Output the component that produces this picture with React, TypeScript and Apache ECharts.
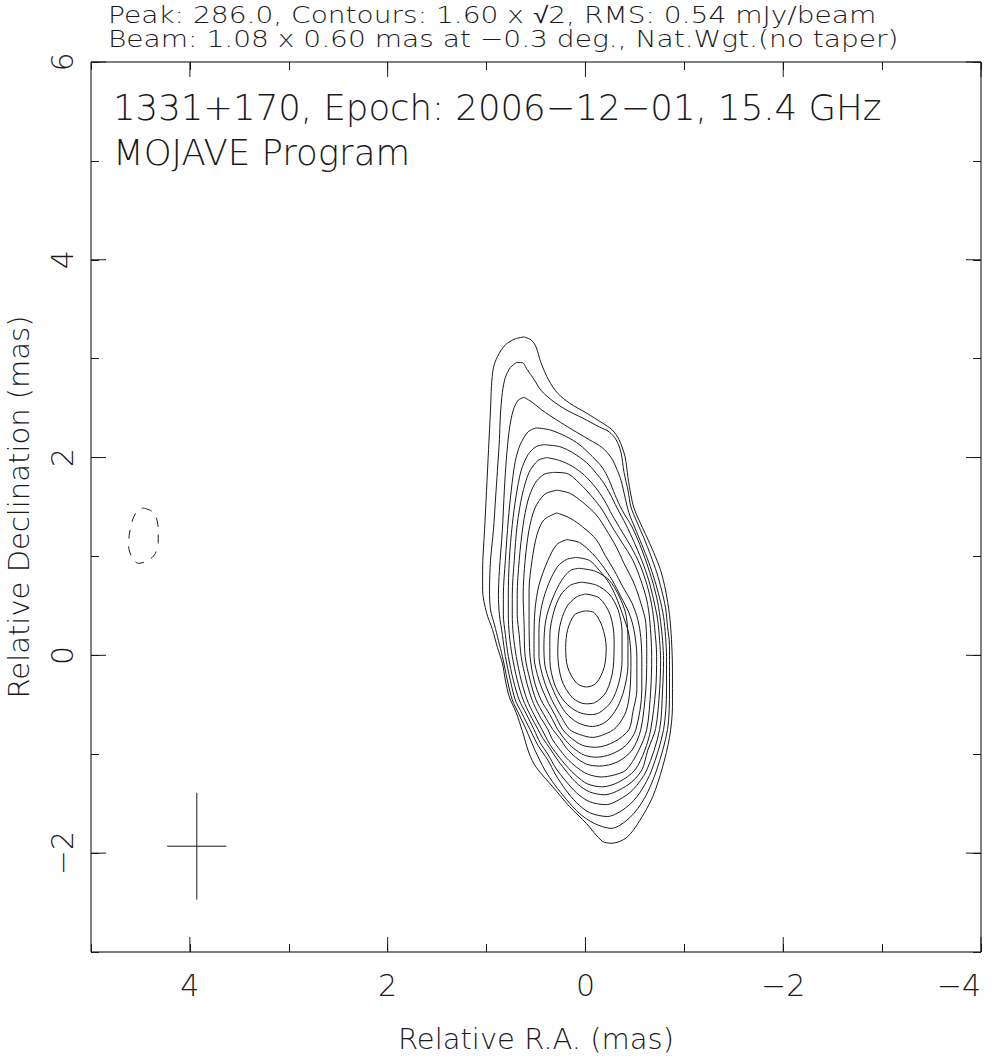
import React, { useEffect, useRef } from "react";
import * as echarts from "echarts";

// ---- axes (mas) ----
const raRange = [-4, 5];
const decRange = [-3, 6];
const xMajorTicks = [4, 2, 0, -2, -4];
const yMajorTicks = [-2, 0, 2, 4, 6];

// ---- header texts ----
const headerLine1 = "Peak: 286.0, Contours: 1.60 x \u221A2, RMS: 0.54 mJy/beam";
const headerLine2 = "Beam: 1.08 x 0.60 mas at \u22120.3 deg., Nat.Wgt.(no taper)";
const titleLine1 = "1331+170, Epoch: 2006\u221212\u221201, 15.4 GHz";
const titleLine2 = "MOJAVE Program";

// ---- restoring beam ----
const beamCenter = [3.93, -1.93];
const beamMajor = 1.08; // along declination
const beamMinor = 0.6; // along R.A.

// ---- contours [R.A., Dec] in mas, levels 1.6 x sqrt(2)^n mJy/beam ----
const lev01 = [[0.62,3.22],[0.55,3.19],[0.50,3.12],[0.45,2.96],[0.37,2.78],[0.28,2.65],[0.16,2.55],[-0.01,2.45],[-0.17,2.35],[-0.27,2.28],[-0.34,2.18],[-0.40,2.01],[-0.43,1.80],[-0.46,1.62],[-0.49,1.49],[-0.54,1.37],[-0.61,1.22],[-0.69,1.04],[-0.76,0.86],[-0.81,0.66],[-0.85,0.41],[-0.87,0.16],[-0.88,-0.15],[-0.88,-0.52],[-0.85,-0.83],[-0.78,-1.13],[-0.68,-1.43],[-0.55,-1.67],[-0.42,-1.84],[-0.27,-1.90],[-0.17,-1.88],[-0.01,-1.70],[0.16,-1.53],[0.33,-1.33],[0.50,-1.13],[0.57,-0.99],[0.64,-0.76],[0.70,-0.58],[0.77,-0.42],[0.81,-0.25],[0.84,-0.08],[0.89,0.08],[0.94,0.26],[1.00,0.43],[1.04,0.66],[1.04,0.86],[1.02,1.27],[1.00,1.67],[0.98,2.08],[0.96,2.48],[0.95,2.73],[0.93,2.91],[0.89,3.02],[0.81,3.14],[0.71,3.20],[0.62,3.22]];
const lev02 = [[0.70,2.96],[0.64,2.96],[0.59,2.89],[0.52,2.79],[0.45,2.68],[0.34,2.58],[0.19,2.48],[0.03,2.40],[-0.14,2.31],[-0.24,2.26],[-0.31,2.18],[-0.36,2.05],[-0.39,1.85],[-0.43,1.67],[-0.46,1.50],[-0.52,1.35],[-0.59,1.19],[-0.66,1.01],[-0.72,0.84],[-0.77,0.66],[-0.81,0.48],[-0.83,0.29],[-0.85,0.10],[-0.85,-0.10],[-0.85,-0.35],[-0.83,-0.75],[-0.72,-1.16],[-0.60,-1.44],[-0.45,-1.64],[-0.26,-1.75],[-0.09,-1.70],[0.06,-1.60],[0.19,-1.46],[0.31,-1.31],[0.41,-1.16],[0.51,-0.96],[0.60,-0.75],[0.67,-0.60],[0.74,-0.45],[0.79,-0.25],[0.84,-0.01],[0.88,0.15],[0.92,0.31],[0.96,0.46],[0.97,0.66],[0.96,0.96],[0.93,1.27],[0.91,1.57],[0.89,1.87],[0.87,2.18],[0.86,2.43],[0.84,2.66],[0.81,2.81],[0.76,2.91],[0.70,2.96]];
const lev03 = [[0.62,2.61],[0.54,2.56],[0.44,2.48],[0.29,2.38],[0.13,2.28],[-0.04,2.18],[-0.17,2.10],[-0.26,2.00],[-0.31,1.90],[-0.36,1.77],[-0.40,1.60],[-0.44,1.44],[-0.50,1.29],[-0.57,1.12],[-0.64,0.94],[-0.70,0.76],[-0.75,0.58],[-0.79,0.39],[-0.81,0.19],[-0.82,-0.01],[-0.82,-0.35],[-0.79,-0.75],[-0.67,-1.16],[-0.55,-1.39],[-0.41,-1.54],[-0.22,-1.63],[-0.04,-1.59],[0.09,-1.49],[0.20,-1.36],[0.30,-1.21],[0.38,-1.06],[0.48,-0.91],[0.56,-0.75],[0.64,-0.59],[0.71,-0.45],[0.76,-0.25],[0.81,-0.01],[0.84,0.21],[0.87,0.41],[0.88,0.61],[0.87,0.86],[0.84,1.27],[0.82,1.67],[0.80,1.98],[0.77,2.28],[0.73,2.48],[0.68,2.58],[0.62,2.61]];
const lev04 = [[0.50,2.30],[0.36,2.28],[0.19,2.21],[0.06,2.13],[-0.07,2.01],[-0.17,1.90],[-0.24,1.77],[-0.30,1.62],[-0.37,1.47],[-0.47,1.30],[-0.55,1.12],[-0.62,0.93],[-0.68,0.74],[-0.73,0.54],[-0.76,0.34],[-0.78,0.15],[-0.79,-0.05],[-0.78,-0.35],[-0.75,-0.75],[-0.62,-1.16],[-0.48,-1.36],[-0.34,-1.46],[-0.21,-1.51],[-0.04,-1.48],[0.09,-1.39],[0.20,-1.27],[0.30,-1.14],[0.38,-1.00],[0.46,-0.88],[0.52,-0.75],[0.60,-0.59],[0.67,-0.45],[0.73,-0.25],[0.78,-0.01],[0.81,0.21],[0.83,0.41],[0.83,0.61],[0.81,0.96],[0.78,1.37],[0.75,1.67],[0.71,1.96],[0.66,2.13],[0.58,2.26],[0.50,2.30]];
const lev05 = [[0.42,2.13],[0.26,2.11],[0.13,2.05],[-0.01,1.95],[-0.11,1.84],[-0.18,1.75],[-0.25,1.63],[-0.32,1.49],[-0.41,1.32],[-0.49,1.15],[-0.57,0.96],[-0.64,0.76],[-0.69,0.56],[-0.73,0.36],[-0.75,0.15],[-0.76,-0.05],[-0.75,-0.35],[-0.71,-0.74],[-0.63,-0.96],[-0.57,-1.16],[-0.43,-1.31],[-0.19,-1.41],[-0.04,-1.38],[0.08,-1.30],[0.18,-1.19],[0.28,-1.06],[0.36,-0.94],[0.43,-0.84],[0.48,-0.75],[0.56,-0.60],[0.63,-0.45],[0.69,-0.25],[0.74,-0.01],[0.77,0.21],[0.78,0.41],[0.78,0.61],[0.77,0.96],[0.74,1.32],[0.70,1.62],[0.65,1.87],[0.58,2.03],[0.50,2.11],[0.42,2.13]];
const lev06 = [[0.39,2.00],[0.26,1.97],[0.13,1.91],[0.01,1.82],[-0.10,1.70],[-0.19,1.57],[-0.27,1.42],[-0.37,1.25],[-0.46,1.10],[-0.55,0.92],[-0.62,0.72],[-0.67,0.51],[-0.70,0.28],[-0.72,-0.01],[-0.71,-0.35],[-0.66,-0.75],[-0.60,-0.96],[-0.50,-1.16],[-0.34,-1.28],[-0.17,-1.33],[-0.02,-1.30],[0.09,-1.22],[0.19,-1.12],[0.28,-1.01],[0.36,-0.90],[0.44,-0.75],[0.52,-0.60],[0.59,-0.45],[0.65,-0.25],[0.70,-0.01],[0.73,0.21],[0.74,0.41],[0.74,0.61],[0.72,0.96],[0.69,1.32],[0.64,1.62],[0.57,1.85],[0.48,1.97],[0.39,2.00]];
const lev07 = [[0.32,1.85],[0.19,1.84],[0.06,1.74],[-0.07,1.60],[-0.17,1.47],[-0.27,1.30],[-0.37,1.14],[-0.48,0.96],[-0.56,0.76],[-0.62,0.56],[-0.65,0.36],[-0.67,-0.01],[-0.66,-0.35],[-0.62,-0.75],[-0.53,-0.98],[-0.41,-1.16],[-0.29,-1.21],[-0.16,-1.23],[-0.02,-1.20],[0.09,-1.13],[0.19,-1.04],[0.27,-0.94],[0.34,-0.84],[0.38,-0.75],[0.47,-0.60],[0.54,-0.45],[0.60,-0.25],[0.65,-0.01],[0.67,0.21],[0.69,0.41],[0.69,0.61],[0.67,0.96],[0.63,1.32],[0.58,1.57],[0.51,1.74],[0.42,1.83],[0.32,1.85]];
const lev08 = [[0.29,1.67],[0.16,1.64],[0.03,1.55],[-0.11,1.42],[-0.21,1.27],[-0.31,1.10],[-0.39,0.93],[-0.49,0.73],[-0.56,0.53],[-0.61,0.33],[-0.62,-0.01],[-0.61,-0.35],[-0.56,-0.75],[-0.47,-0.96],[-0.32,-1.08],[-0.14,-1.12],[-0.01,-1.10],[0.10,-1.03],[0.19,-0.94],[0.26,-0.84],[0.33,-0.75],[0.42,-0.60],[0.50,-0.45],[0.56,-0.25],[0.61,-0.01],[0.62,0.31],[0.63,0.61],[0.61,0.96],[0.57,1.27],[0.51,1.49],[0.41,1.63],[0.29,1.67]];
const lev09 = [[0.29,1.44],[0.16,1.39],[0.03,1.30],[-0.11,1.17],[-0.20,1.01],[-0.29,0.86],[-0.38,0.69],[-0.47,0.53],[-0.53,0.36],[-0.56,0.18],[-0.57,-0.05],[-0.57,-0.35],[-0.51,-0.75],[-0.41,-0.91],[-0.26,-1.00],[-0.11,-1.03],[0.01,-1.01],[0.12,-0.94],[0.20,-0.86],[0.28,-0.75],[0.36,-0.60],[0.45,-0.45],[0.52,-0.25],[0.56,-0.01],[0.57,0.36],[0.57,0.66],[0.54,0.96],[0.49,1.22],[0.42,1.37],[0.29,1.44]];
const lev10 = [[0.19,1.17],[0.06,1.14],[-0.07,1.03],[-0.17,0.91],[-0.27,0.76],[-0.36,0.59],[-0.44,0.43],[-0.49,0.26],[-0.52,-0.01],[-0.52,-0.35],[-0.48,-0.57],[-0.44,-0.75],[-0.30,-0.87],[-0.11,-0.93],[0.03,-0.91],[0.14,-0.84],[0.23,-0.75],[0.31,-0.60],[0.39,-0.45],[0.47,-0.25],[0.52,-0.01],[0.52,0.15],[0.51,0.46],[0.47,0.71],[0.38,0.96],[0.29,1.12],[0.19,1.17]];
const lev11 = [[0.09,0.99],[-0.04,0.96],[-0.14,0.86],[-0.24,0.73],[-0.31,0.59],[-0.37,0.43],[-0.44,0.21],[-0.46,-0.05],[-0.45,-0.35],[-0.41,-0.57],[-0.31,-0.73],[-0.19,-0.80],[-0.07,-0.83],[0.06,-0.80],[0.16,-0.75],[0.24,-0.63],[0.34,-0.45],[0.42,-0.25],[0.47,-0.01],[0.47,0.26],[0.44,0.51],[0.37,0.73],[0.28,0.90],[0.19,0.97],[0.09,0.99]];
const lev12 = [[0.06,0.88],[-0.10,0.85],[-0.24,0.76],[-0.34,0.60],[-0.41,0.41],[-0.43,0.15],[-0.43,-0.10],[-0.39,-0.35],[-0.32,-0.53],[-0.21,-0.67],[-0.07,-0.72],[0.08,-0.68],[0.20,-0.58],[0.28,-0.45],[0.36,-0.27],[0.41,-0.10],[0.42,0.10],[0.40,0.36],[0.33,0.58],[0.24,0.76],[0.15,0.86],[0.06,0.88]];
const lev13 = [[0.04,0.74],[-0.11,0.71],[-0.24,0.62],[-0.33,0.46],[-0.37,0.24],[-0.37,-0.05],[-0.34,-0.27],[-0.26,-0.47],[-0.14,-0.58],[-0.05,-0.60],[0.08,-0.57],[0.21,-0.47],[0.31,-0.30],[0.36,-0.05],[0.36,0.21],[0.32,0.44],[0.25,0.61],[0.15,0.71],[0.04,0.74]];
const lev14 = [[0.00,0.62],[-0.14,0.58],[-0.25,0.41],[-0.29,0.16],[-0.28,-0.13],[-0.21,-0.37],[-0.09,-0.48],[0.00,-0.49],[0.13,-0.43],[0.24,-0.25],[0.28,0.02],[0.26,0.29],[0.19,0.49],[0.09,0.59],[0.00,0.62]];
const lev15 = [[0.00,0.45],[-0.09,0.43],[-0.17,0.29],[-0.21,0.08],[-0.19,-0.12],[-0.11,-0.28],[-0.01,-0.32],[0.09,-0.28],[0.18,-0.12],[0.20,0.08],[0.18,0.26],[0.11,0.41],[0.00,0.45]];
const negLev = [[4.47,1.49],[4.39,1.46],[4.34,1.39],[4.32,1.27],[4.32,1.14],[4.35,1.03],[4.42,0.96],[4.52,0.93],[4.59,1.00],[4.62,1.11],[4.61,1.24],[4.58,1.37],[4.53,1.46],[4.47,1.49]];

const positiveContours = [lev01, lev02, lev03, lev04, lev05, lev06, lev07, lev08, lev09, lev10, lev11, lev12, lev13, lev14, lev15];

const FONT = "'DejaVu Sans', sans-serif";
const TXT = "#1a1a1a";
const LINE = "#1a1a1a";
const MINOR = 8;
const MAJOR = 15;

const fmt = (v: number) => {
  if (Math.round(v) % 2 !== 0) return "";
  return v < 0 ? "\u2212" + Math.abs(v) : String(v);
};

export default function App() {
  const ref = useRef<HTMLDivElement>(null);
  useEffect(() => {
    if (!ref.current) return;
    const chart = echarts.init(ref.current, null, { renderer: "svg" });

    const tickData: number[][] = [
      ...xMajorTicks.map((v) => [v, 0]),
      ...xMajorTicks.map((v) => [v, 1]),
      ...yMajorTicks.map((v) => [v, 2]),
      ...yMajorTicks.map((v) => [v, 3]),
    ];

    const baseAxis = {
      type: "value",
      interval: 1,
      axisLine: { show: false, onZero: false },
      splitLine: { show: false },
      axisTick: { show: true, inside: true, length: MINOR, lineStyle: { color: LINE, width: 1 } },
    };

    const contourSeries = positiveContours.map((c, i) => ({
      name: "contour" + (i + 1),
      type: "line",
      data: c,
      showSymbol: false,
      symbol: "none",
      smooth: 0.3,
      silent: true,
      lineStyle: { color: LINE, width: 1 },
      z: 3,
    }));

    const headerStyle = { fontSize: 23, fontWeight: 200, fontFamily: FONT, fill: TXT, align: "left", verticalAlign: "middle" };
    const titleStyle = { fontSize: 35.5, fontWeight: 200, fontFamily: FONT, fill: TXT, align: "left", verticalAlign: "middle" };

    const option: any = {
      animation: false,
      backgroundColor: "#ffffff",
      textStyle: { fontFamily: FONT },
      grid: {
        left: 91,
        top: 62,
        width: 890,
        height: 890,
        show: true,
        borderColor: "#000",
        borderWidth: 1,
        backgroundColor: "transparent",
        containLabel: false,
        outerBoundsMode: "none",
      },
      xAxis: [
        {
          ...baseAxis,
          min: raRange[0],
          max: raRange[1],
          inverse: true,
          position: "bottom",
          axisLabel: { show: true, formatter: fmt, fontSize: 30, fontWeight: 200, color: TXT, margin: 18, fontFamily: FONT, alignMinLabel: "right" },
          name: "Relative R.A. (mas)",
          nameLocation: "middle",
          nameGap: 72,
          nameTextStyle: { fontSize: 29, fontWeight: 200, color: TXT, fontFamily: FONT },
        },
        {
          ...baseAxis,
          min: raRange[0],
          max: raRange[1],
          inverse: true,
          position: "top",
          axisLabel: { show: false },
        },
      ],
      yAxis: [
        {
          ...baseAxis,
          min: decRange[0],
          max: decRange[1],
          position: "left",
          axisLabel: { show: true, formatter: fmt, rotate: 90, fontSize: 30, fontWeight: 200, color: TXT, margin: 14, fontFamily: FONT },
          name: "Relative Declination (mas)",
          nameLocation: "middle",
          nameGap: 58,
          nameTextStyle: { fontSize: 29, fontWeight: 200, color: TXT, fontFamily: FONT },
        },
        {
          ...baseAxis,
          min: decRange[0],
          max: decRange[1],
          position: "right",
          axisLabel: { show: false },
        },
      ],
      graphic: [
        { type: "text", x: 108, y: 15, scaleX: 1.22, silent: true, style: { text: headerLine1, ...headerStyle } },
        { type: "text", x: 108, y: 39, scaleX: 1.22, silent: true, style: { text: headerLine2, ...headerStyle } },
        { type: "text", x: 113, y: 107, silent: true, style: { text: titleLine1, ...titleStyle } },
        { type: "text", x: 113, y: 152, silent: true, style: { text: titleLine2, ...titleStyle } },
      ],
      series: [
        ...contourSeries,
        {
          name: "negative",
          type: "line",
          data: negLev,
          showSymbol: false,
          symbol: "none",
          smooth: 0.3,
          silent: true,
          lineStyle: { color: LINE, width: 1, type: [9, 8] },
          z: 3,
        },
        {
          name: "beamMajor",
          type: "line",
          data: [
            [beamCenter[0], beamCenter[1] + beamMajor / 2],
            [beamCenter[0], beamCenter[1] - beamMajor / 2],
          ],
          showSymbol: false,
          symbol: "none",
          silent: true,
          lineStyle: { color: LINE, width: 1 },
        },
        {
          name: "beamMinor",
          type: "line",
          data: [
            [beamCenter[0] + beamMinor / 2, beamCenter[1]],
            [beamCenter[0] - beamMinor / 2, beamCenter[1]],
          ],
          showSymbol: false,
          symbol: "none",
          silent: true,
          lineStyle: { color: LINE, width: 1 },
        },
        {
          name: "majorTicks",
          type: "custom",
          data: tickData,
          silent: true,
          clip: false,
          encode: { x: 0, y: 1 },
          renderItem: (params: any, api: any) => {
            const v = api.value(0);
            const s = api.value(1);
            let a: number[];
            let b: number[];
            if (s === 0) {
              a = api.coord([v, decRange[0]]);
              b = [a[0], a[1] - MAJOR];
            } else if (s === 1) {
              a = api.coord([v, decRange[1]]);
              b = [a[0], a[1] + MAJOR];
            } else if (s === 2) {
              a = api.coord([raRange[1], v]);
              b = [a[0] + MAJOR, a[1]];
            } else {
              a = api.coord([raRange[0], v]);
              b = [a[0] - MAJOR, a[1]];
            }
            return {
              type: "line",
              shape: { x1: a[0], y1: a[1], x2: b[0], y2: b[1] },
              style: { stroke: LINE, lineWidth: 1 },
            };
          },
        },
      ],
    };

    chart.setOption(option);
    return () => chart.dispose();
  }, []);

  return (
    <div
      ref={ref}
      style={{ position: "absolute", left: 0, top: 0, width: 1001, height: 1058, background: "#fff" }}
    />
  );
}
